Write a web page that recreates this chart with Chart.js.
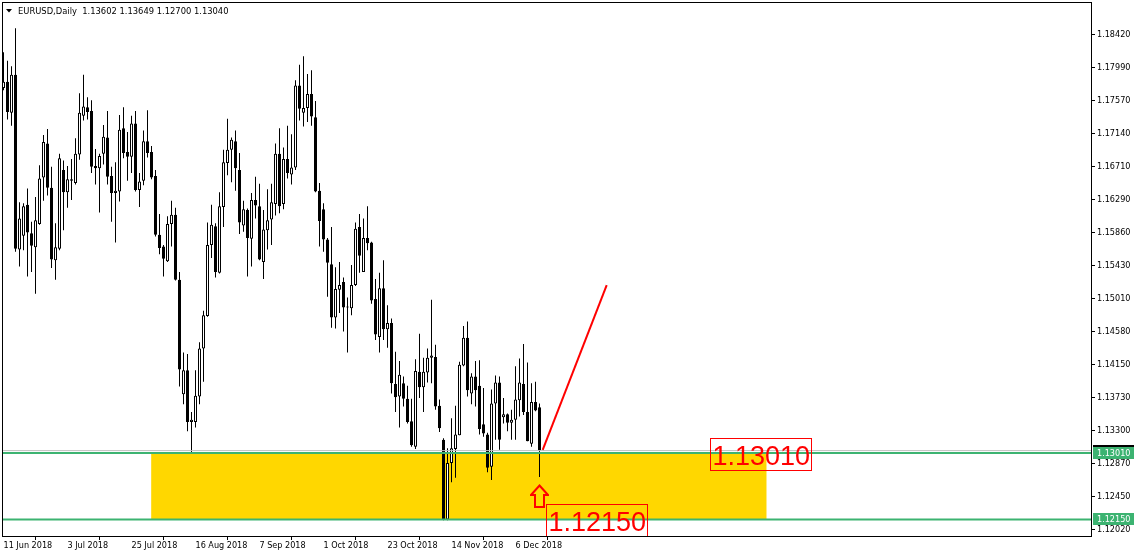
<!DOCTYPE html>
<html>
<head>
<meta charset="utf-8">
<script src="https://cdn.jsdelivr.net/npm/chart.js@4.4.1/dist/chart.umd.min.js"></script>
<style>
html, body { margin: 0; padding: 0; background: #fff; }
</style>
</head>
<body>
<canvas id="chart" width="1134" height="554"></canvas>
<script>
var symbol = 'EURUSD', period = 'Daily';

// daily candles, 11 Jun 2018 .. 14 Dec 2018
var opens = [1.1773,1.1781,1.1741,1.1790,1.1564,1.1582,1.1622,1.1585,1.1567,1.1597,
  1.1657,1.1701,1.1644,1.1550,1.1565,1.1667,1.1638,1.1655,1.1650,1.1687,
  1.1737,1.1748,1.1743,1.1672,1.1669,1.1688,1.1709,1.1659,1.1637,1.1639,
  1.1721,1.1690,1.1684,1.1727,1.1641,1.1653,1.1704,1.1690,1.1659,1.1583,
  1.1568,1.1549,1.1597,1.1609,1.1525,1.1377,1.1408,1.1341,1.1341,1.1374,
  1.1436,1.1478,1.1570,1.1594,1.1534,1.1619,1.1676,1.1693,1.1704,1.1667,
  1.1595,1.1615,1.1578,1.1628,1.1620,1.1548,1.1589,1.1603,1.1623,1.1688,
  1.1623,1.1681,1.1661,1.1670,1.1776,1.1741,1.1747,1.1765,1.1735,1.1640,
  1.1616,1.1577,1.1545,1.1476,1.1512,1.1522,1.1490,1.1488,1.1518,1.1593,
  1.1535,1.1579,1.1573,1.1500,1.1451,1.1514,1.1461,1.1469,1.1390,1.1374,
  1.1391,1.1371,1.1342,1.1309,1.1406,1.1386,1.1405,1.1424,1.1425,1.1362,
  1.1318,1.1215,1.1288,1.1306,1.1324,1.1414,1.1450,1.1378,1.1400,1.1388,
  1.1338,1.1325,1.1283,1.1365,1.1392,1.1347,1.1351,1.1340,1.1344,1.1369,
  1.1390,1.1354,1.1313,1.1367,1.13602];
var highs = [1.1819,1.1808,1.1801,1.1850,1.1625,1.1624,1.1643,1.1600,1.1632,1.1673,
  1.1712,1.1720,1.1671,1.1598,1.1688,1.1679,1.1672,1.1681,1.1708,1.1766,
  1.1790,1.1761,1.1757,1.1694,1.1688,1.1725,1.1743,1.1671,1.1677,1.1738,
  1.1748,1.1716,1.1737,1.1743,1.1663,1.1718,1.1744,1.1698,1.1667,1.1610,
  1.1570,1.1607,1.1627,1.1618,1.1535,1.1431,1.1429,1.1354,1.1408,1.1444,
  1.1485,1.1599,1.1622,1.1598,1.1638,1.1693,1.1733,1.1709,1.1718,1.1689,
  1.1627,1.1617,1.1637,1.1658,1.1649,1.1615,1.1642,1.1649,1.1701,1.1721,
  1.1696,1.1724,1.1713,1.1783,1.1803,1.1814,1.1791,1.1796,1.1756,1.1650,
  1.1624,1.1579,1.1593,1.1541,1.1548,1.1528,1.1502,1.1544,1.1599,1.1610,
  1.1604,1.1620,1.1574,1.1526,1.1534,1.1550,1.1492,1.1475,1.1432,1.1420,
  1.1400,1.1388,1.1371,1.1422,1.1455,1.1424,1.1436,1.1499,1.1441,1.1370,
  1.1320,1.1307,1.1346,1.1362,1.1419,1.1465,1.1471,1.1404,1.1420,1.1421,
  1.1385,1.1327,1.1383,1.1401,1.1400,1.1372,1.1352,1.1357,1.1413,1.1423,
  1.1442,1.1418,1.1391,1.1393,1.13649];
var lows = [1.1770,1.1732,1.1724,1.1561,1.1542,1.1563,1.1529,1.1535,1.1507,1.1596,
  1.1627,1.1634,1.1540,1.1525,1.1563,1.1589,1.1618,1.1628,1.1648,1.1680,
  1.1731,1.1732,1.1663,1.1648,1.1612,1.1674,1.1648,1.1600,1.1573,1.1626,
  1.1682,1.1653,1.1663,1.1639,1.1619,1.1647,1.1683,1.1655,1.1581,1.1558,
  1.1529,1.1548,1.1568,1.1524,1.1387,1.1364,1.1329,1.1300,1.1334,1.1364,
  1.1393,1.1477,1.1553,1.1528,1.1533,1.1593,1.1660,1.1651,1.1640,1.1584,
  1.1587,1.1529,1.1542,1.1604,1.1550,1.1526,1.1564,1.1570,1.1608,1.1611,
  1.1616,1.1656,1.1648,1.1667,1.1731,1.1723,1.1729,1.1724,1.1638,1.1568,
  1.1561,1.1503,1.1463,1.1462,1.1482,1.1458,1.1431,1.1479,1.1517,1.1534,
  1.1535,1.1563,1.1494,1.1447,1.1431,1.1447,1.1437,1.1378,1.1354,1.1334,
  1.1361,1.1339,1.1309,1.1306,1.1372,1.1354,1.1392,1.1391,1.1357,1.1328,
  1.1214,1.1214,1.1263,1.1269,1.1324,1.1413,1.1374,1.1364,1.1361,1.1325,
  1.1322,1.1276,1.1266,1.1318,1.1305,1.1339,1.1329,1.1318,1.1318,1.1348,
  1.1350,1.1316,1.1309,1.1355,1.12700];
var closes = [1.1781,1.1742,1.1790,1.1565,1.1604,1.1620,1.1586,1.1569,1.1602,1.1656,
  1.1703,1.1644,1.1551,1.1567,1.1682,1.1638,1.1655,1.1653,1.1688,1.1741,
  1.1749,1.1742,1.1671,1.1669,1.1685,1.1710,1.1658,1.1637,1.1640,1.1719,
  1.1689,1.1684,1.1727,1.1641,1.1652,1.1704,1.1689,1.1657,1.1583,1.1566,
  1.1552,1.1597,1.1609,1.1525,1.1409,1.1408,1.1341,1.1344,1.1375,1.1436,
  1.1479,1.1570,1.1596,1.1535,1.1620,1.1677,1.1693,1.1706,1.1669,1.1599,
  1.1616,1.1579,1.1628,1.1621,1.1551,1.1590,1.1602,1.1625,1.1688,1.1620,
  1.1681,1.1663,1.1670,1.1776,1.1746,1.1747,1.1765,1.1736,1.1639,1.1601,
  1.1577,1.1547,1.1476,1.1513,1.1518,1.1489,1.1489,1.1518,1.1591,1.1556,
  1.1579,1.1572,1.1498,1.1454,1.1514,1.1461,1.1469,1.1391,1.1373,1.1402,
  1.1371,1.1341,1.1311,1.1407,1.1386,1.1406,1.1424,1.1427,1.1361,1.1333,
  1.1215,1.1288,1.1307,1.1325,1.1415,1.1450,1.1382,1.1400,1.1382,1.1332,
  1.1326,1.1282,1.1365,1.1392,1.1318,1.1351,1.1340,1.1344,1.1370,1.1392,
  1.1354,1.1316,1.1367,1.1356,1.13040];

var xTickIdx = [0, 16, 32, 48, 64, 80, 96, 112, 128];
var xTickLabels = ['11 Jun 2018', '3 Jul 2018', '25 Jul 2018', '16 Aug 2018', '7 Sep 2018',
  '1 Oct 2018', '23 Oct 2018', '14 Nov 2018', '6 Dec 2018'];
var yTickValues = [1.18420, 1.17990, 1.17570, 1.17140, 1.16710, 1.16290, 1.15860, 1.15430,
  1.15010, 1.14580, 1.14150, 1.13730, 1.13300, 1.12870, 1.12450, 1.12020];

// drawn objects
var levels = [1.13010, 1.12150];
var bidPrice = 1.13040;
var zoneFrom = 36.9, zoneTo = 190.8;
var trendX = [134.8, 150.8], trendY = [1.1305, 1.1518];
var arrowAt = [134, 1.12454];
var noteTexts = ['1.13010', '1.12150'];
var noteX = [176.6, 135.6];
var notePrice = [1.1320, 1.1235];

var xMin = -0.125, xMax = 271.875;
var yMin = 1.11936, yMax = 1.18828;

var smallFont = "'DejaVu Sans Condensed', 'DejaVu Sans', sans-serif";

var idx = opens.map(function(v, i) { return i; });
var wickData = idx.map(function(i) { return { x: i, y: [lows[i], highs[i]] }; });
var bodyData = idx.map(function(i) { return { x: i, y: [opens[i], closes[i]] }; });
var bodyColors = idx.map(function(i) { return closes[i] >= opens[i] ? '#ffffff' : '#000000'; });

// hollow up arrow used as a point style
var arrowImg = document.createElement('canvas');
arrowImg.width = 19; arrowImg.height = 24;
var ac = arrowImg.getContext('2d');
ac.strokeStyle = '#ff0000';
ac.lineWidth = 2;
ac.lineJoin = 'miter';
ac.beginPath();
ac.moveTo(9.5, 1.5); ac.lineTo(18, 11); ac.lineTo(14, 11); ac.lineTo(14, 23);
ac.lineTo(5, 23); ac.lineTo(5, 11); ac.lineTo(1, 11); ac.closePath();
ac.stroke();

function hline(v, color, width, ord) {
  return {
    type: 'line', data: [{ x: xMin, y: v }, { x: xMax, y: v }],
    borderColor: color, borderWidth: width, pointRadius: 0, fill: false, order: ord
  };
}

function noPad(s) {
  s.paddingLeft = 0; s.paddingRight = 0; s.paddingTop = 0; s.paddingBottom = 0;
}

var overlay = {
  id: 'overlay',
  afterDatasetsDraw: function(chart) {
    var ctx = chart.ctx, ca = chart.chartArea;
    var xs = chart.scales.x, ys = chart.scales.y;
    ctx.save();
    ctx.beginPath();
    ctx.rect(ca.left, ca.top, ca.right - ca.left, ca.bottom - ca.top);
    ctx.clip();
    ctx.font = "27px 'Liberation Sans', Arial, sans-serif";
    ctx.textBaseline = 'alphabetic';
    ctx.textAlign = 'left';
    for (var k = 0; k < noteTexts.length; k++) {
      var px = Math.round(xs.getPixelForValue(noteX[k]));
      var py = Math.round(ys.getPixelForValue(notePrice[k]));
      var w = ctx.measureText(noteTexts[k]).width;
      ctx.strokeStyle = '#ff0000';
      ctx.lineWidth = 1;
      ctx.strokeRect(px + 0.5, py + 0.5, Math.round(w) + 3, 32);
      ctx.fillStyle = '#ff0000';
      ctx.fillText(noteTexts[k], px + 2.5, py + 27);
    }
    ctx.restore();
  },
  afterDraw: function(chart) {
    var ctx = chart.ctx, ca = chart.chartArea;
    var ys = chart.scales.y;
    ctx.save();
    // frame
    ctx.strokeStyle = '#000';
    ctx.lineWidth = 1;
    ctx.strokeRect(ca.left - 0.5, ca.top - 0.5, ca.right - ca.left + 1, ca.bottom - ca.top + 1);
    // header
    ctx.fillStyle = '#000';
    ctx.beginPath();
    ctx.moveTo(6, 9); ctx.lineTo(12, 9); ctx.lineTo(9, 12.5); ctx.closePath();
    ctx.fill();
    var n = opens.length - 1;
    var head = symbol + ',' + period + '  ' +
      [opens[n], highs[n], lows[n], closes[n]].map(function(v) { return v.toFixed(5); }).join(' ');
    ctx.font = '9.3px ' + smallFont;
    ctx.textBaseline = 'alphabetic';
    ctx.fillText(head, 18, 14);
    // price labels on the axis
    ctx.font = '9px ' + smallFont;
    ctx.textBaseline = 'middle';
    var tags = [[bidPrice, '#000000']].concat(levels.map(function(v) { return [v, '#3cb371']; }));
    tags.forEach(function(t) {
      var y = Math.round(ys.getPixelForValue(t[0]));
      ctx.fillStyle = t[1];
      ctx.fillRect(ca.right + 2, y - 6, chart.width - ca.right - 2, 12);
      ctx.fillStyle = '#ffffff';
      ctx.fillText(t[0].toFixed(5), ca.right + 6, y + 0.5);
    });
    ctx.restore();
  }
};

new Chart(document.getElementById('chart'), {
  type: 'bar',
  data: {
    datasets: [
      {
        type: 'line', data: [{ x: zoneFrom, y: levels[0] }, { x: zoneTo, y: levels[0] }],
        borderWidth: 0, borderColor: 'rgba(0,0,0,0)', backgroundColor: '#ffd700',
        pointRadius: 0, fill: { value: levels[1] }, order: 10
      },
      {
        data: wickData, backgroundColor: '#000000', borderWidth: 0,
        barThickness: 1, grouped: false, inflateAmount: 0, order: 6
      },
      {
        data: bodyData, backgroundColor: bodyColors, borderColor: '#000000', borderWidth: 1,
        borderSkipped: false, barThickness: 3, minBarLength: 1, grouped: false,
        inflateAmount: 0, order: 5
      },
      hline(bidPrice, '#c0c0c0', 1, 4),
      hline(levels[0], '#3cb371', 2, 3),
      hline(levels[1], '#3cb371', 2, 3),
      {
        type: 'line', data: [{ x: trendX[0], y: trendY[0] }, { x: trendX[1], y: trendY[1] }],
        borderColor: '#ff0000', borderWidth: 2, pointRadius: 0, fill: false, order: 2
      },
      {
        type: 'line', data: [{ x: arrowAt[0], y: arrowAt[1] }], showLine: false,
        pointStyle: arrowImg, pointRadius: 10, order: 1
      }
    ]
  },
  options: {
    responsive: false,
    devicePixelRatio: 1,
    animation: false,
    events: [],
    layout: { autoPadding: false, padding: { left: 3, top: 3, right: 0, bottom: 0 } },
    plugins: { legend: { display: false }, tooltip: { enabled: false } },
    scales: {
      x: {
        type: 'linear', min: xMin, max: xMax, offset: false,
        border: { display: false },
        grid: { display: true, drawOnChartArea: false, drawTicks: true, tickLength: 4, color: '#000' },
        afterBuildTicks: function(s) { s.ticks = xTickIdx.map(function(v) { return { value: v }; }); },
        afterFit: function(s) { s.height = 18; noPad(s); },
        ticks: {
          autoSkip: false, maxRotation: 0, minRotation: 0, align: 'start', padding: 0,
          color: '#000', font: { family: smallFont, size: 9 },
          callback: function(v, i) { return xTickLabels[i]; }
        }
      },
      y: {
        type: 'linear', position: 'right', min: yMin, max: yMax,
        border: { display: false },
        grid: { display: true, drawOnChartArea: false, drawTicks: true, tickLength: 4, color: '#000' },
        afterBuildTicks: function(s) { s.ticks = yTickValues.map(function(v) { return { value: v }; }); },
        afterFit: function(s) { s.width = 43; noPad(s); },
        ticks: {
          autoSkip: false, padding: 2, color: '#000', font: { family: smallFont, size: 9 },
          callback: function(v) { return v.toFixed(5); }
        }
      }
    }
  },
  plugins: [overlay]
});
</script>
</body>
</html>
